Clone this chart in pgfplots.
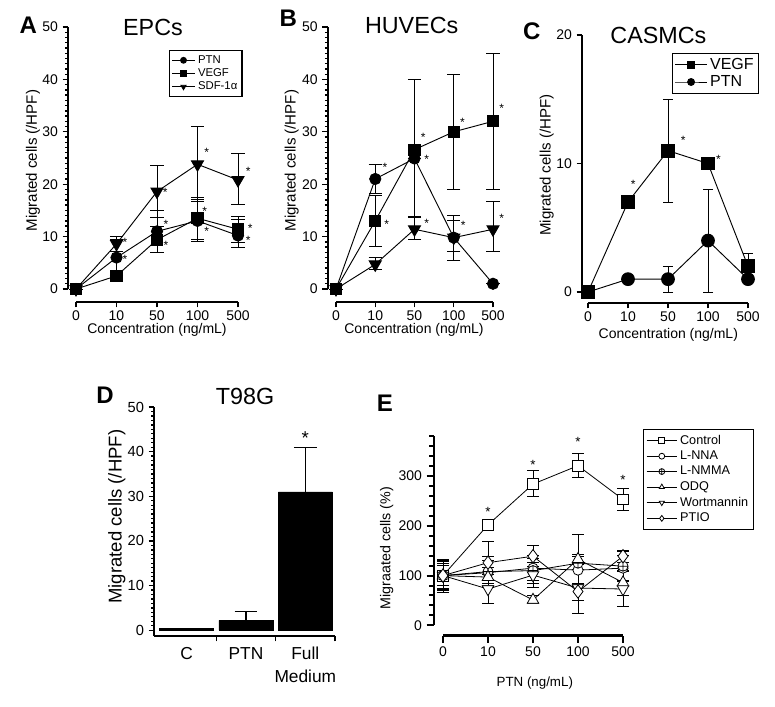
\documentclass[border=0pt]{standalone}
\usepackage{fontspec}
\setmainfont{Liberation Sans}
\usepackage{pgfplots}
\usepackage{pgfplotstable}
\pgfplotsset{compat=1.18}
\newcommand{\fs}[1]{\fontsize{#1}{#1}\selectfont}

% ---------- data ----------
\pgfplotstableread{
x y ep em
0 0 0 0
1 6 3.5 3.5
2 11 4 4
3 13 4 4
4 10.2 3 2.3
}\Aptn
\pgfplotstableread{
x y ep em
0 0 0 0
1 2.5 0 0
2 9.4 2.5 2.5
3 13.5 4 4
4 11.4 2.4 2.6
}\Avegf
\pgfplotstableread{
x y ep em
0 0 0 0
1 8.6 1.5 1.5
2 18.6 4.9 4.9
3 23.8 7.2 7
4 20.8 5 4.7
}\Asdf
\pgfplotstableread{
x y ep em
0 0 0 0
1 21 2.8 2.8
2 24.9 0 0
3 9.8 4.3 4.3
4 1 0 0
}\Bptn
\pgfplotstableread{
x y ep em
0 0 0 0
1 13 4.8 4.8
2 26.6 13.4 13
3 30 11 11
4 32 13 13
}\Bvegf
\pgfplotstableread{
x y ep em
0 0 0 0
1 4.7 1.3 1
2 11.4 2.4 1.9
3 9.8 3.2 2.6
4 11.4 5.4 4.2
}\Bsdf
\pgfplotstableread{
x y ep em
0 0 0 0
1 7 0 0
2 11 4 4
3 10 0 0
4 2 1 0
}\Cvegf
\pgfplotstableread{
x y ep em
0 0 0 0
1 1 0 0
2 1 1 1
3 4 4 4
4 1 0 0
}\Cptn
\pgfplotstableread{
x y ep
0 0.4 0
1 2.2 2
2 31 10
}\Dbars
\pgfplotstableread{
x y ep em
0 100 33 33
1 202 5 5
2 284 27 25
3 321 24 23
4 253 23 22
}\Ectl
\pgfplotstableread{
x y ep em
0 100 30 30
1 106 25 25
2 115 25 25
3 111 28 28
4 115 25 25
}\Enna
\pgfplotstableread{
x y ep em
0 100 25 25
1 108 30 30
2 110 25 25
3 125 58 40
4 119 30 30
}\Enmma
\pgfplotstableread{
x y ep em
0 100 30 30
1 97 20 20
2 51 10 8
3 133 10 10
4 86 25 25
}\Eodq
\pgfplotstableread{
x y ep em
0 100 20 20
1 73 30 30
2 101 25 25
3 75 50 25
4 73 36 36
}\Ewort
\pgfplotstableread{
x y ep em
0 100 28 28
1 126 42 42
2 139 21 21
3 68 45 45
4 139 12 12
}\Eptio

\tikzset{sig/.style={font=\fs{9}, inner sep=0pt, yshift=-2pt}}
\pgfplotsset{
  gp/.style={
    scale only axis, clip=false,
    axis x line=bottom, axis y line=left,
    axis line style={-, line width=1.2pt},
    tick align=outside,
    tick style={black, line width=1pt},
    major tick length=4pt, minor tick length=2.2pt,
    xmin=0, xmax=4, xtick={0,1,2,3,4}, xticklabels={0,10,50,100,500},
    tick label style={font=\fs{10.5}},
    xticklabel style={yshift=1pt},
    /pgf/number format/assume math mode=true,
    xlabel style={font=\fs{10.5}},
    ylabel style={font=\fs{11.3}},
    every axis title shift=0pt,
    title style={font=\fs{17.5}, anchor=center},
    legend cell align=left,
  },
  ser/.style={black, line width=0.7pt},
  ebar/.style={error bars/y dir=both, error bars/y explicit,
    error bars/error bar style={line width=0.7pt, black},
    error bars/error mark options={black, line width=0.7pt, mark size=#1, rotate=90}},
  ebar/.default=5pt,
}

\begin{document}
\begin{tikzpicture}
\path[use as bounding box] (0,0) rectangle (581.25pt,-530.25pt);

% ---------------- A ----------------
\begin{axis}[gp, at={(57pt,-216.75pt)}, anchor=south west,
  width=121.5pt, height=196.5pt, ymin=0, ymax=50, ytick={0,10,...,50}, minor y tick num=9,
  axis x line shift=9.75pt, axis y line shift=6pt,
  xlabel={Concentration (ng/mL)}, ylabel={Migrated cells (/HPF)},
  xlabel style={at={(axis description cs:0.5,-0.155)}, anchor=center},
  ylabel style={at={(axis description cs:-0.265,0.49)}, anchor=center},
  title={EPCs}, title style={at={(axis description cs:0.475,1.0)}},
  legend style={at={(axis description cs:0.574,0.912)}, anchor=north west, draw=black, line width=1pt,
    font=\fs{8.5}, row sep=-1.5pt, inner sep=1.5pt},
  legend image post style={mark size=2.2pt, line width=0.7pt},
]
\addplot[ser, mark=*, mark size=4.2pt, ebar] table[x=x,y=y,y error plus=ep,y error minus=em]{\Aptn};
\addlegendentry{PTN}
\addplot[ser, mark=square*, mark size=4.2pt, ebar] table[x=x,y=y,y error plus=ep,y error minus=em]{\Avegf};
\addlegendentry{VEGF}
\addplot[ser, mark=triangle*, mark size=5.2pt, mark options={rotate=180}, ebar] table[x=x,y=y,y error plus=ep,y error minus=em]{\Asdf};
\addlegendentry{SDF-1α}
\node[sig] at (axis cs:3.23,26.5) {*};
\node[sig] at (axis cs:4.25,23) {*};
\node[sig] at (axis cs:3.18,15.4) {*};
\node[sig] at (axis cs:3.23,11.6) {*};
\node[sig] at (axis cs:4.3,12) {*};
\node[sig] at (axis cs:4.25,9.7) {*};
\node[sig] at (axis cs:2.2,19) {*};
\node[sig] at (axis cs:2.22,12.8) {*};
\node[sig] at (axis cs:2.22,8.8) {*};
\node[sig] at (axis cs:1.21,9.4) {*};
\node[sig] at (axis cs:1.21,6.2) {*};
\end{axis}

% ---------------- B ----------------
\begin{axis}[gp, at={(252pt,-216.75pt)}, anchor=south west,
  width=117.75pt, height=196.5pt, ymin=0, ymax=50, ytick={0,10,...,50}, minor y tick num=9,
  axis x line shift=9.75pt, axis y line shift=6.2pt,
  xlabel={Concentration (ng/mL)}, ylabel={Migrated cells (/HPF)},
  xlabel style={at={(axis description cs:0.497,-0.155)}, anchor=center},
  ylabel style={at={(axis description cs:-0.282,0.49)}, anchor=center},
  title={HUVECs}, title style={at={(axis description cs:0.482,1.006)}},
]
\addplot[ser, mark=*, mark size=4.2pt, ebar] table[x=x,y=y,y error plus=ep,y error minus=em]{\Bptn};
\addplot[ser, mark=square*, mark size=4.2pt, ebar] table[x=x,y=y,y error plus=ep,y error minus=em]{\Bvegf};
\addplot[ser, mark=triangle*, mark size=5.2pt, mark options={rotate=180}, ebar] table[x=x,y=y,y error plus=ep,y error minus=em]{\Bsdf};
\node[sig] at (axis cs:1.25,23.7) {*};
\node[sig] at (axis cs:1.29,12.8) {*};
\node[sig] at (axis cs:2.22,29.4) {*};
\node[sig] at (axis cs:2.31,25.2) {*};
\node[sig] at (axis cs:2.31,13) {*};
\node[sig] at (axis cs:3.22,32.3) {*};
\node[sig] at (axis cs:3.24,12.7) {*};
\node[sig] at (axis cs:4.22,34.9) {*};
\node[sig] at (axis cs:4.22,13.9) {*};
\end{axis}

% ---------------- C ----------------
\begin{axis}[gp, at={(441pt,-219pt)}, anchor=south west,
  width=120pt, height=192.75pt, ymin=0, ymax=20, ytick={0,10,20},
  axis x line shift=8.25pt, axis y line shift=4.5pt,
  xlabel={Concentration (ng/mL)}, ylabel={Migrated cells (/HPF)},
  xlabel style={at={(axis description cs:0.502,-0.165)}, anchor=center},
  ylabel style={at={(axis description cs:-0.258,0.494)}, anchor=center},
  title={CASMCs}, title style={at={(axis description cs:0.44,1.0)}},
  legend style={at={(axis description cs:0.525,0.93)}, anchor=north west, draw=black, line width=1pt,
    font=\fs{12}, row sep=-1pt, inner sep=1.5pt},
  legend image code/.code={\draw[mark repeat=2,mark phase=2,#1] plot coordinates {(0cm,0cm) (0.42cm,0cm) (0.84cm,0cm)};},
  legend image post style={mark size=2.6pt, line width=0.7pt},
]
\addplot[ser, mark=square*, mark size=4.8pt, ebar=3.8pt] table[x=x,y=y,y error plus=ep,y error minus=em]{\Cvegf};
\addlegendentry{VEGF}
\addplot[ser, mark=*, mark size=4.8pt, ebar=3.8pt] table[x=x,y=y,y error plus=ep,y error minus=em]{\Cptn};
\addlegendentry{PTN}
\node[sig] at (axis cs:1.13,8.6) {*};
\node[sig] at (axis cs:2.38,12) {*};
\node[sig] at (axis cs:3.26,10.5) {*};
\end{axis}

% ---------------- D ----------------
\begin{axis}[gp, at={(115.5pt,-477pt)}, anchor=south west,
  width=135.75pt, height=171.75pt, xmin=-0.55, xmax=2.5, ymin=-1.3, ymax=50,
  ytick={0,10,...,50}, minor y tick num=9,
  tick label style={font=\fs{11}},
  xtick={0.5,1.5,2.5}, xticklabels={{},{},{}},
  extra x ticks={0,1,2}, extra x tick labels={C,PTN,{Full\\Medium}},
  extra x tick style={major tick length=0pt, tick label style={align=center, font=\fontsize{13}{17}\selectfont, yshift=-6pt}},
  ylabel={Migrated cells (/HPF)},
  ylabel style={at={(axis description cs:-0.206,0.521)}, anchor=center, font=\fs{13.9}},
  title={T98G}, title style={at={(axis description cs:0.503,1.045)}},
]
\addplot[ybar, bar width=40.5pt, fill=black, draw=black,
  error bars/y dir=plus, error bars/y explicit,
  error bars/error bar style={line width=1pt, black},
  error bars/error mark options={black, line width=1pt, mark size=8.5pt, rotate=90}]
  table[x=x,y=y,y error plus=ep]{\Dbars};
\node[font=\fs{14}, inner sep=0pt, yshift=-2.5pt] at (axis cs:2,43.7) {*};
\end{axis}

% ---------------- E ----------------
\begin{axis}[gp, at={(332.25pt,-469pt)}, anchor=south west,
  width=135pt, height=141.75pt, ymin=0, ymax=380, ytick={0,100,200,300}, minor ytick={20,40,...,380},
  axis x line shift=7.7pt, axis y line shift=6.75pt,
  axis line style={-, line width=1.8pt}, tick style={black, line width=1.5pt},
  major tick length=5.5pt, minor tick length=3.5pt,
  xlabel={PTN (ng/mL)}, ylabel={Migraated cells (\%)},
  xlabel style={at={(axis description cs:0.51,-0.305)}, anchor=center, font=\fs{10}},
  ylabel style={at={(axis description cs:-0.313,0.409)}, anchor=center, font=\fs{10.7}},
  legend style={at={(axis description cs:1.111,1.0386)}, anchor=north west, draw=black, line width=0.9pt,
    font=\fs{9.5}, row sep=-0.5pt, inner sep=2pt},
  legend image code/.code={\draw[mark repeat=2,mark phase=2,#1] plot coordinates {(0cm,0cm) (0.4cm,0cm) (0.8cm,0cm)};},
  legend image post style={mark size=2.2pt, line width=0.6pt},
]
\addplot[black, line width=0.6pt, mark=square*, mark size=4pt, mark options={fill=white}, ebar=4.5pt] table[x=x,y=y,y error plus=ep,y error minus=em]{\Ectl};
\addlegendentry{Control}
\addplot[black, line width=0.6pt, mark=*, mark size=3.8pt, mark options={fill=white}, ebar=4.5pt] table[x=x,y=y,y error plus=ep,y error minus=em]{\Enna};
\addlegendentry{L-NNA}
\addplot[black, line width=0.6pt, mark=oplus*, mark size=3.8pt, mark options={fill=white}, ebar=4.5pt] table[x=x,y=y,y error plus=ep,y error minus=em]{\Enmma};
\addlegendentry{L-NMMA}
\addplot[black, line width=0.6pt, mark=triangle*, mark size=5pt, mark options={fill=white}, ebar=4.5pt] table[x=x,y=y,y error plus=ep,y error minus=em]{\Eodq};
\addlegendentry{ODQ}
\addplot[black, line width=0.6pt, mark=triangle*, mark size=5pt, mark options={fill=white, rotate=180}, ebar=4.5pt] table[x=x,y=y,y error plus=ep,y error minus=em]{\Ewort};
\addlegendentry{Wortmannin}
\addplot[black, line width=0.6pt, mark=diamond*, mark size=5pt, mark options={fill=white}, ebar=4.5pt] table[x=x,y=y,y error plus=ep,y error minus=em]{\Eptio};
\addlegendentry{PTIO}
\node[sig, font=\fs{10}] at (axis cs:1,233) {*};
\node[sig, font=\fs{10}] at (axis cs:2,327) {*};
\node[sig, font=\fs{10}] at (axis cs:3,374) {*};
\node[sig, font=\fs{10}] at (axis cs:4,298) {*};
\end{axis}

% panel letters
\node[font=\bfseries\fs{18}] at (21.2pt,-18.75pt) {A};
\node[font=\bfseries\fs{18}] at (216.2pt,-13.75pt) {B};
\node[font=\bfseries\fs{18}] at (398.8pt,-23.75pt) {C};
\node[font=\bfseries\fs{18}] at (78.75pt,-296.25pt) {D};
\node[font=\bfseries\fs{18}] at (288.75pt,-302.25pt) {E};
\end{tikzpicture}
\end{document}
